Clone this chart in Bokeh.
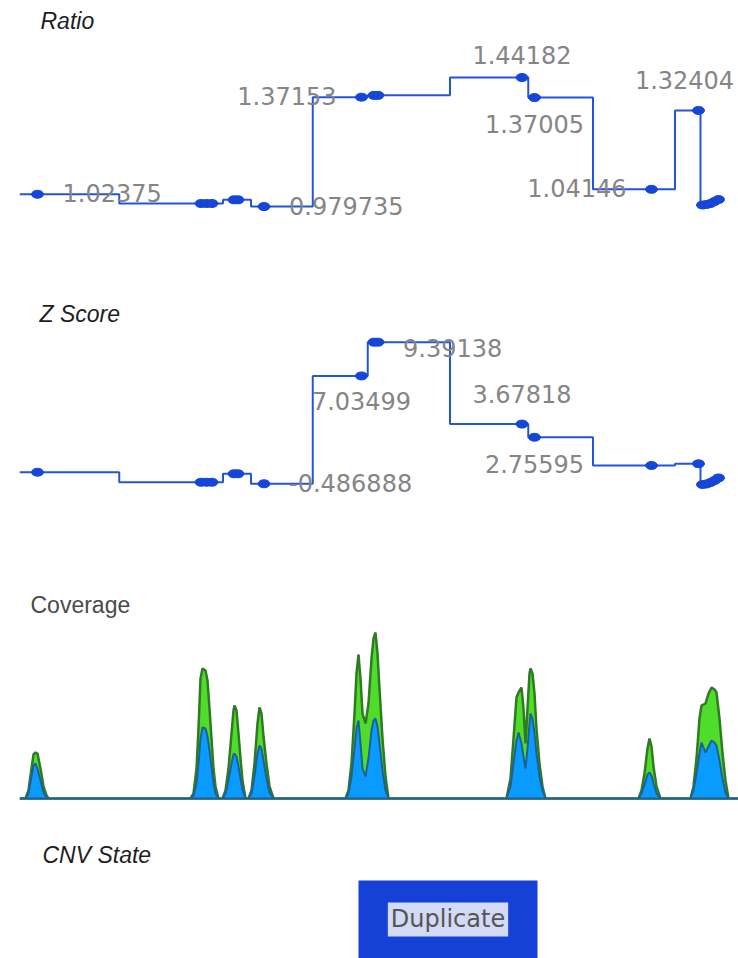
from bokeh.plotting import figure
from bokeh.models import ColumnDataSource, Range1d
from bokeh.layouts import column
from bokeh.embed import file_html
from bokeh.resources import INLINE
from bokeh.core.properties import value

# ---------------- data ----------------
# genomic positions of the segments (track units)
positions = [18, 181.5, 187, 192.5, 214.5, 218.5, 244.5, 342, 354.5, 358.5, 502.5,
             515, 632, 679, 683, 687, 691, 695, 699]
ratio = [1.02375, 0.9907, 0.9907, 0.9907, 1.0039, 1.0039, 0.979735, 1.37153, 1.378, 1.378,
         1.44182, 1.37005, 1.04146, 1.32404, 0.9853, 0.9871, 0.9907, 0.9978, 1.0050]
zscore = [0.32, -0.38, -0.38, -0.38, 0.21, 0.21, -0.486888, 7.03499, 9.39138, 9.39138,
          3.67818, 2.75595, 0.79, 0.91, -0.54, -0.50, -0.40, -0.26, -0.08]

ratio_label_idx = [0, 6, 7, 10, 11, 12, 13]
zscore_label_idx = [6, 7, 9, 10, 11]

cov_pos = [0, 6, 9, 12, 14, 16, 18, 21, 24, 27, 29,
           171, 174, 177, 179, 181, 183, 186, 188, 190, 192, 194, 196, 199,
           203, 206, 209, 212, 214, 215, 217, 219, 221, 223, 226,
           229, 232, 235, 238, 240, 242, 244, 247, 250, 254,
           326, 329, 332, 335, 337, 339, 341, 343, 346, 349, 352, 354, 356, 358, 360, 363, 366, 369,
           487, 491, 494, 497, 499, 502, 504, 506, 508, 510, 511, 513, 515, 517, 520, 523, 526,
           619, 622, 625, 628, 630, 632, 634, 637, 641,
           671, 674, 677, 680, 682, 686, 689, 692, 695, 697, 700, 703, 706, 709, 719]
cov_total = [0, 0, 8, 30, 44, 46, 45, 30, 12, 3, 0,
             0, 5, 30, 70, 120, 130, 128, 118, 90, 60, 30, 12, 0,
             0, 8, 30, 65, 88, 93, 88, 65, 40, 18, 0,
             0, 8, 35, 75, 91, 85, 62, 35, 12, 0,
             0, 8, 35, 85, 125, 144, 120, 85, 75, 95, 140, 160, 166, 145, 110, 60, 22, 0,
             0, 20, 60, 101, 106, 111, 90, 55, 90, 125, 130, 125, 105, 70, 35, 12, 0,
             0, 8, 25, 50, 60, 52, 32, 12, 0,
             0, 12, 40, 80, 93, 95, 105, 111, 109, 106, 80, 45, 18, 0, 0]
cov_split = [0, 0, 5, 22, 33, 35, 30, 18, 6, 1, 0,
             0, 3, 15, 35, 60, 71, 70, 62, 48, 32, 15, 5, 0,
             0, 5, 18, 35, 44, 45, 42, 32, 20, 9, 0,
             0, 5, 22, 45, 53, 50, 38, 20, 6, 0,
             0, 5, 22, 50, 70, 78, 55, 30, 22, 40, 68, 78, 80, 72, 55, 28, 8, 0,
             0, 12, 35, 58, 66, 55, 42, 30, 50, 75, 85, 80, 65, 45, 22, 8, 0,
             0, 5, 14, 24, 26, 23, 15, 5, 0,
             0, 8, 25, 45, 56, 46, 52, 58, 56, 53, 38, 20, 6, 0, 0]

cnv_start = [339]
cnv_end = [518]
cnv_state = ["Duplicate"]

# label placement (style): side, dx, dy in screen px
ratio_label_place = [("left", 25, -1), ("left", 25, -1), ("right", -25, -1),
                     ("center", 0, -23), ("center", 0, 26), ("right", -25, -1),
                     ("center", -14, -30)]
zscore_label_place = [("left", 25, -1), ("center", 0, 25), ("left", 25, 6),
                      ("center", 0, -30), ("center", 0, 27)]

# ---------------- style ----------------
W = 738
LEFT = 19
X_RANGE = (0, 719)
LINE_COLOR = "#2354e0"
POINT_COLOR = "#1546d8"
LABEL_COLOR = "#858585"
TITLE_FONT = value("Liberation Sans")
LABEL_FONT = value("DejaVu Sans")


def make_fig(h, y0, y1):
    p = figure(width=W, height=h, x_range=Range1d(*X_RANGE), y_range=Range1d(y0, y1),
               output_backend="svg", toolbar_location=None,
               x_axis_location=None, y_axis_location=None,
               min_border_left=LEFT, min_border_right=0, min_border_top=0, min_border_bottom=0)
    p.grid.visible = False
    p.outline_line_color = None
    p.background_fill_color = "white"
    p.border_fill_color = "white"
    return p


def title(p, x, y, text, italic=True, color="#1e1e1e"):
    p.text(x=[x], y=[y], text=[text], text_font=TITLE_FONT, text_font_size="23px",
           text_font_style="italic" if italic else "normal", text_color=color,
           text_align="left", text_baseline="alphabetic")


def value_track(p, vals, label_idx, place, fmt):
    xs_line = [X_RANGE[0]] + positions
    ys_line = [vals[0]] + vals
    p.step(xs_line, ys_line, mode="center", line_color=LINE_COLOR, line_width=2)
    p.ellipse(x=positions, y=vals, width=12, height=8, width_units="screen",
              height_units="screen", fill_color=POINT_COLOR, line_color=POINT_COLOR)
    src = ColumnDataSource(dict(
        x=[positions[i] for i in label_idx],
        y=[vals[i] for i in label_idx],
        text=[fmt(vals[i]) for i in label_idx],
        align=[a for a, _, _ in place],
        dx=[d for _, d, _ in place],
        dy=[d for _, _, d in place],
    ))
    p.text(x="x", y="y", text="text", x_offset="dx", y_offset="dy", text_align="align",
           text_baseline="middle", text_font=LABEL_FONT, text_font_size="24px",
           text_color=LABEL_COLOR, source=src)


# Ratio track
p1 = make_fig(290, 0.67908, 1.71777)
value_track(p1, ratio, ratio_label_idx, ratio_label_place, lambda v: f"{v:g}")
title(p1, 21, 1.6461, "Ratio")

# Z score track
p2 = make_fig(290, -7.234, 12.996)
value_track(p2, zscore, zscore_label_idx, zscore_label_place, lambda v: f"{v:g}")
title(p2, 20, 11.322, "Z Score")

# Coverage track
p3 = make_fig(250, -32, 218)
p3.patch(cov_pos, cov_total, fill_color="#50dc2a", line_color="#2e7b22", line_width=2.5)
p3.patch(cov_pos, cov_split, fill_color="#0a9bff", line_color="#1f5f96", line_width=2)
title(p3, 11, 194, "Coverage", italic=False, color="#4a4a4a")

# CNV state track
p4 = make_fig(128, 0.0, 1.641)
p4.quad(left=cnv_start, right=cnv_end, bottom=[0] * len(cnv_start), top=[1] * len(cnv_start),
        fill_color="#1641d6", line_color=None)
p4.text(x=[(s + e) / 2 for s, e in zip(cnv_start, cnv_end)], y=[0.5] * len(cnv_start),
        text=cnv_state, text_align="center", text_baseline="middle",
        text_font=LABEL_FONT, text_font_size="24px", text_color="#555555",
        background_fill_color="#d2daf6", padding=3)
title(p4, 23, 1.333, "CNV State")

layout = column(p1, p2, p3, p4, spacing=0)
open("out.html", "w").write(file_html(layout, INLINE))
